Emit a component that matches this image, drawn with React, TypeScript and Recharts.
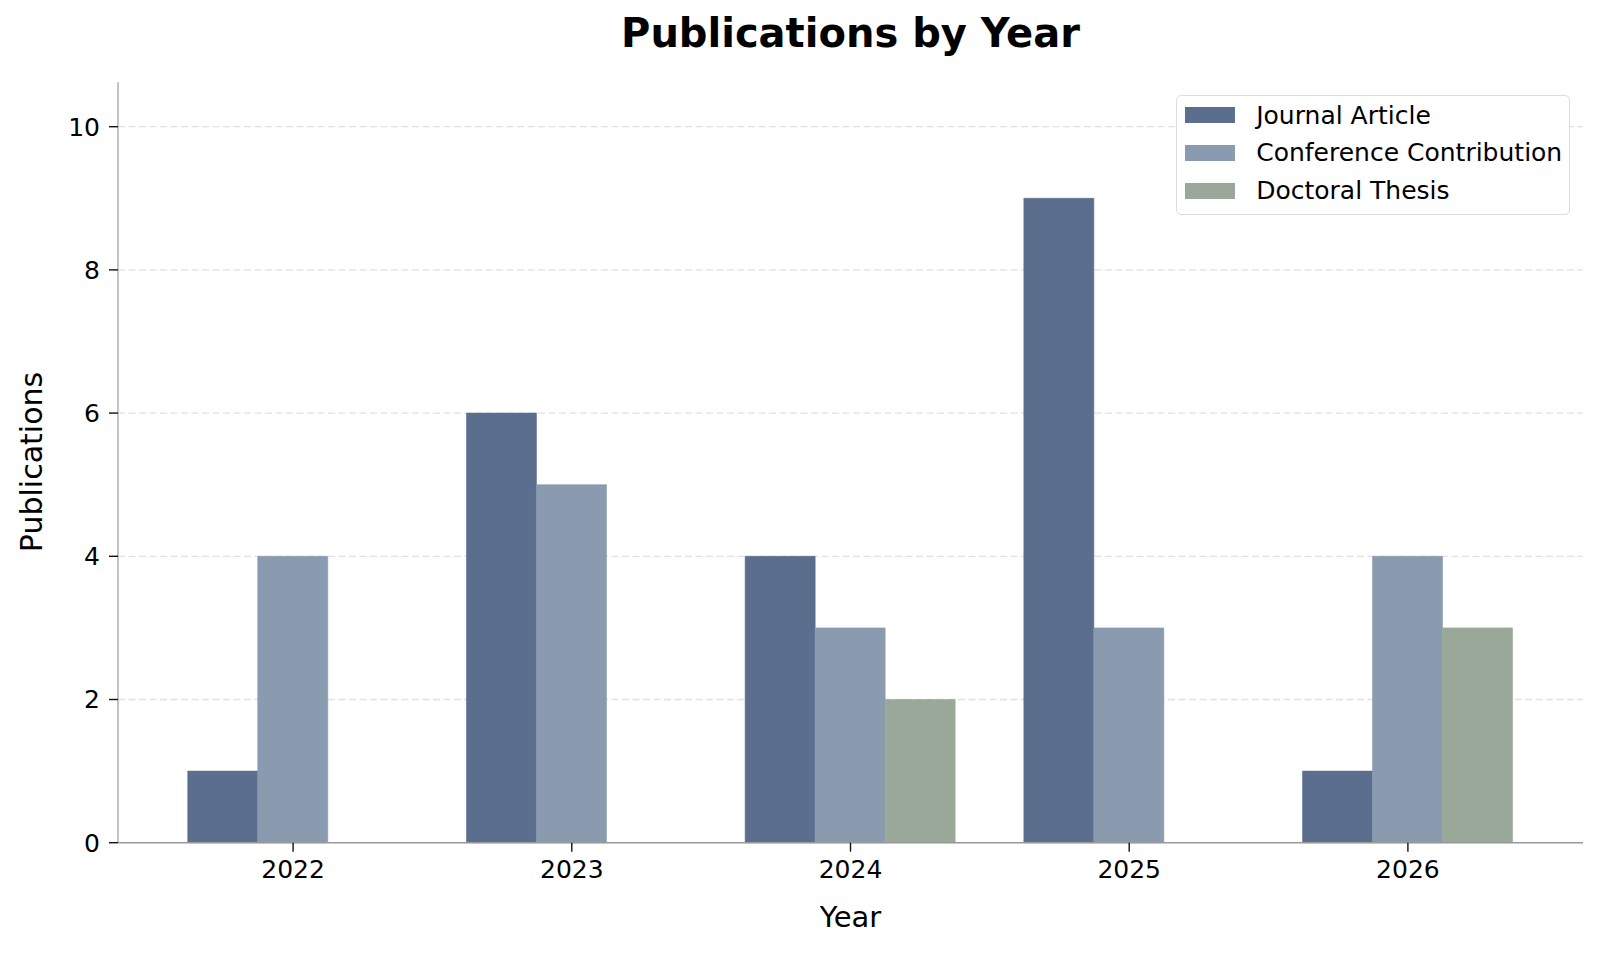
import React from 'react';
import { BarChart, Bar, XAxis, YAxis, CartesianGrid } from 'recharts';

const years = ['2022', '2023', '2024', '2025', '2026'];
const journalArticles = [1, 6, 4, 9, 1];
const conferenceContributions = [4, 5, 3, 3, 4];
const doctoralTheses = [0, 0, 2, 0, 3];
const yTicks = [0, 2, 4, 6, 8, 10];
const yMax = 10.62;
const seriesKeys = ['journal', 'conference', 'thesis'];
const seriesNames = ['Journal Article', 'Conference Contribution', 'Doctoral Thesis'];
const seriesColors = ['#5c6e8d', '#8a9aaf', '#99a898'];

const data = years.map((y, i) => ({
  year: y,
  journal: journalArticles[i],
  conference: conferenceContributions[i],
  thesis: doctoralTheses[i],
}));

const FONT = '"DejaVu Sans", sans-serif';

const LegendBox = () => (
  <div
    style={{
      position: 'absolute',
      left: 1175.7,
      top: 95,
      width: 394,
      height: 120,
      boxSizing: 'border-box',
      border: '1.5px solid #dcdce2',
      borderRadius: 5,
      background: '#fff',
      paddingTop: 0.3,
      fontFamily: FONT,
      fontSize: 25,
      color: '#000',
    }}
  >
    {seriesNames.map((n, i) => (
      <div key={n} style={{ display: 'flex', alignItems: 'center', height: 37.7 }}>
        <div style={{ width: 50, height: 16, background: seriesColors[i], marginLeft: 8.5, marginRight: 21 }} />
        <span style={{ whiteSpace: 'nowrap', lineHeight: 1 }}>{n}</span>
      </div>
    ))}
  </div>
);

const gridGenerator = ({ offset }: any) =>
  yTicks.filter((t) => t > 0).map((t) => offset.top + offset.height * (1 - t / yMax));

export default function App() {
  return (
    <div style={{ position: 'relative', width: 1601, height: 953, background: '#fff' }}>
      <style>{`body{margin:0;}`}</style>
      <BarChart
        width={1601}
        height={953}
        data={data}
        margin={{ top: 82.3, right: 18, bottom: 50.3, left: 18 }}
        barGap={0}
      >
        <CartesianGrid
          vertical={false}
          stroke="#e0e0e7"
          strokeWidth={1.3}
          strokeDasharray="7 3.5"
          horizontalCoordinatesGenerator={gridGenerator}
        />
        <XAxis
          dataKey="year"
          height={60}
          padding={{ left: 35.75, right: 35.75 }}
          tickSize={9}
          tickMargin={8.5}
          interval={0}
          axisLine={{ stroke: '#999', strokeWidth: 1.4 }}
          tickLine={{ stroke: '#111', strokeWidth: 1.4 }}
          tick={{ fill: '#000', fontSize: 25, fontFamily: FONT }}
        />
        <YAxis
          width={100}
          domain={[0, yMax]}
          ticks={yTicks}
          tickSize={9}
          tickMargin={9}
          axisLine={{ stroke: '#aaa', strokeWidth: 1.4 }}
          tickLine={{ stroke: '#111', strokeWidth: 1.4 }}
          tick={{ fill: '#000', fontSize: 25, fontFamily: FONT }}
        />
        {seriesKeys.map((k, i) => (
          <Bar
            key={k}
            dataKey={k}
            name={seriesNames[i]}
            fill={seriesColors[i]}
            stroke={seriesColors[i]}
            strokeWidth={0.6}
            barSize={70}
            isAnimationActive={false}
          />
        ))}
      </BarChart>
      <LegendBox />
      <svg
        width={1601}
        height={953}
        style={{ position: 'absolute', left: 0, top: 0, pointerEvents: 'none' }}
      >
        <text x={850.5} y={47} textAnchor="middle" fontFamily={FONT} fontWeight="bold" fontSize={40} fill="#000">
          Publications by Year
        </text>
        <text x={850.5} y={927.3} textAnchor="middle" fontFamily={FONT} fontSize={29} fill="#000">
          Year
        </text>
        <text
          x={0}
          y={0}
          transform="translate(41.7,462) rotate(-90)"
          textAnchor="middle"
          fontFamily={FONT}
          fontSize={30}
          fill="#000"
        >
          Publications
        </text>
      </svg>
    </div>
  );
}
